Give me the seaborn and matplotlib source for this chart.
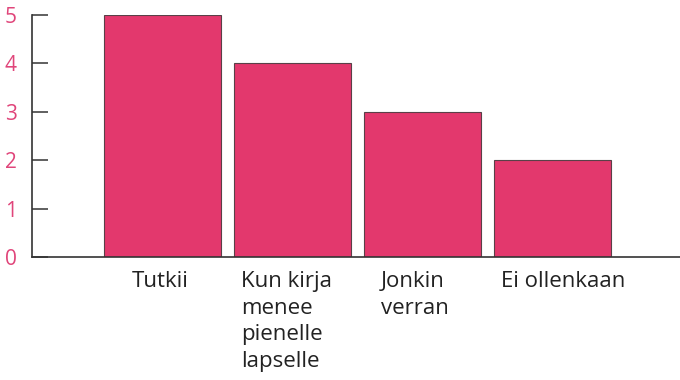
import matplotlib
matplotlib.use("Agg")
import matplotlib.pyplot as plt
import matplotlib.transforms as mtransforms
import seaborn as sns
import pandas as pd

categories = ["Tutkii", "Kun kirja\nmenee\npienelle\nlapselle", "Jonkin\nverran", "Ei ollenkaan"]
values = [5, 4, 3, 2]
yticks = [0, 1, 2, 3, 4, 5]

sns.set_style("white")
plt.rcParams['font.family'] = ['Open Sans', 'DejaVu Sans']

pink = "#E3386D"
df = pd.DataFrame({"cat": categories, "val": values})

fig = plt.figure(figsize=(6.8, 3.8), dpi=100)
ax = fig.add_axes([32/680, 1 - 257/380, (680-32)/680, (257-15)/380])
sns.barplot(data=df, x="cat", y="val", color=pink, edgecolor="#5a4048",
            linewidth=0.8, width=0.9, saturation=1, ax=ax)

ax.set_xlim(-1.004, 3.977)
ax.set_ylim(0, 5)
ax.set_yticks(yticks)
ax.set_yticklabels([str(t) for t in yticks])
ax.set_xlabel("")
ax.set_ylabel("")
for s in ["top", "right"]:
    ax.spines[s].set_visible(False)
for s in ["left", "bottom"]:
    ax.spines[s].set_color("#333333")
    ax.spines[s].set_linewidth(1.2)
ax.tick_params(axis="y", direction="in", length=11.5, width=1.2, color="#444444",
               labelcolor="#E0457A", labelsize=15, pad=11, left=True)
ax.tick_params(axis="x", length=0, labelsize=16, labelcolor="#222222", pad=10)
label_shift_px = [-2, -6, -8, 10]
for lab, dx in zip(ax.get_xticklabels(), label_shift_px):
    lab.set_multialignment("left")
    lab.set_linespacing(1.36)
    lab.set_transform(lab.get_transform() +
                      mtransforms.ScaledTranslation(dx / 100, 0, fig.dpi_scale_trans))
ax.set_zorder(1)

fig.savefig("out.png", dpi=100)
